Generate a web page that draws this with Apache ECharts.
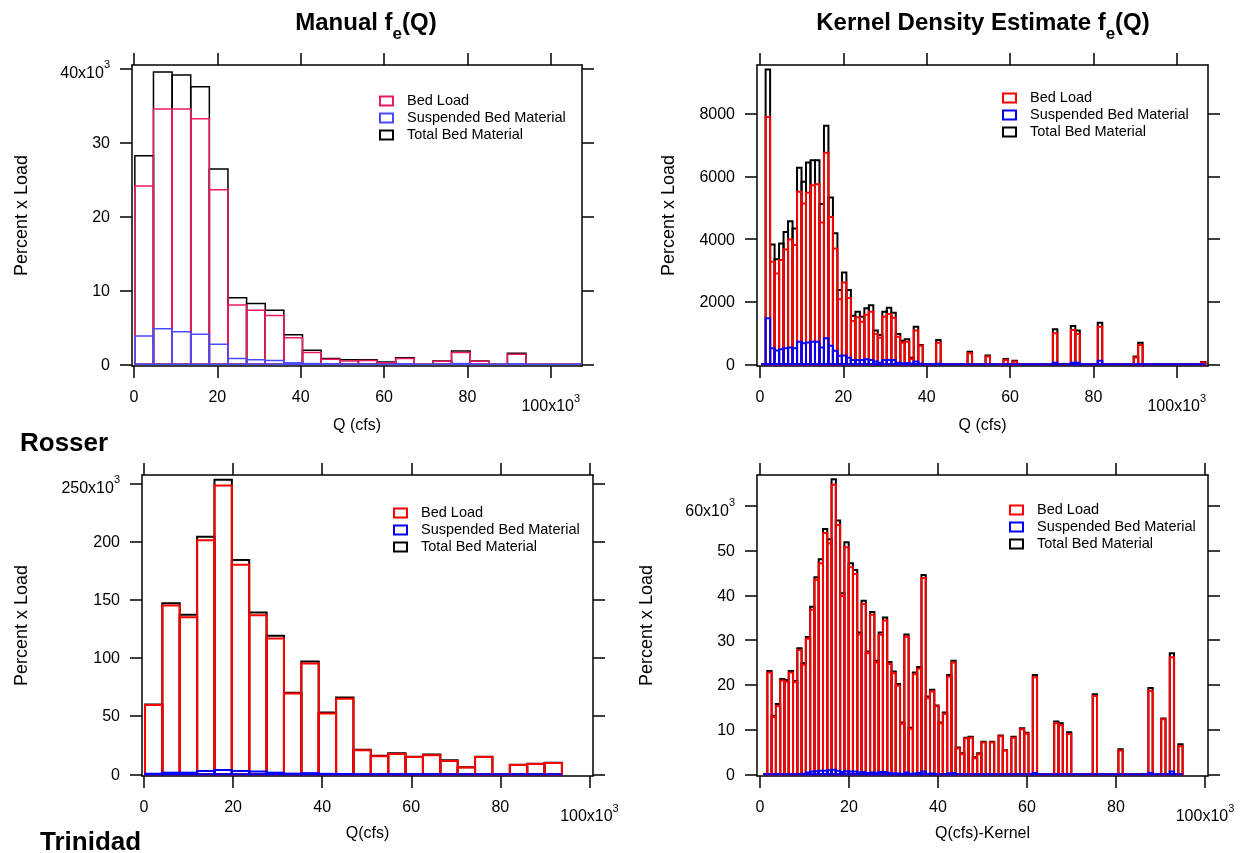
<!DOCTYPE html>
<html>
<head>
<meta charset="utf-8">
<title>Rosser / Trinidad f_e(Q)</title>
<script src="https://cdn.jsdelivr.net/npm/echarts@6/dist/echarts.min.js"></script>
<style>
  html, body { margin: 0; background: #fff; }
  #chart { width: 1246px; height: 853px; }
</style>
</head>
<body>
<div id="chart"></div>
<script>
// ---- Rosser, manual bins (Q and load in 10^3) ----
const rosserManualStart = 0.2
const rosserManualWidth = 4.47
const rosserManualTotal = [28.2, 39.5, 39.1, 37.5, 26.4, 9.0, 8.2, 7.3, 4.0, 1.9, 0.8, 0.6, 0.6, 0.3, 0.9, 0, 0.45, 1.8, 0.45, 0, 1.5, 0, 0, 0]
const rosserManualBed = [24.1, 34.5, 34.5, 33.2, 23.6, 8.0, 7.3, 6.6, 3.6, 1.6, 0.67, 0.45, 0.5, 0.2, 0.8, 0, 0.4, 1.58, 0.4, 0, 1.35, 0, 0, 0]
const rosserManualSusp = [3.83, 4.82, 4.41, 4.05, 2.7, 0.8, 0.6, 0.5, 0.2, 0.1, 0.05, 0.03, 0.03, 0.02, 0.05, 0, 0.02, 0.1, 0.02, 0, 0.05, 0, 0, 0]

// ---- Rosser, kernel estimate (Q in 10^3, load as is) ----
const rosserKernelStart = 0.27
const rosserKernelWidth = 1.077
const rosserKernelTotal = [
  0, 9420, 3830, 3360, 3860, 4230, 4570, 4340, 6280, 5830,
  6450, 6520, 6520, 5120, 7620, 5330, 4190, 2370, 2930, 2370,
  1550, 1680, 1520, 1790, 1890, 1080, 940, 1680, 1810, 1650,
  970, 750, 800, 210, 1200, 620, 0, 0, 0, 780,
  0, 0, 0, 0, 0, 0, 400, 0, 0, 0,
  280, 0, 0, 0, 170, 0, 110, 0, 0, 0,
  0, 0, 0, 0, 0, 1120, 0, 0, 0, 1220,
  1080, 0, 0, 0, 0, 1330, 0, 0, 0, 0,
  0, 0, 0, 250, 690, 0, 0, 0, 0, 0,
  0, 0, 0, 0, 0, 0, 0, 0, 70]
const rosserKernelBed = [
  0, 7900, 3280, 2900, 3330, 3670, 3990, 3810, 5510, 5140,
  5480, 5720, 5750, 4530, 6760, 4710, 3700, 2080, 2610, 2120,
  1380, 1500, 1360, 1580, 1680, 970, 850, 1520, 1610, 1490,
  880, 690, 720, 170, 1080, 590, 0, 0, 0, 690,
  0, 0, 0, 0, 0, 0, 350, 0, 0, 0,
  250, 0, 0, 0, 140, 0, 90, 0, 0, 0,
  0, 0, 0, 0, 0, 990, 0, 0, 0, 1100,
  970, 0, 0, 0, 0, 1200, 0, 0, 0, 0,
  0, 0, 0, 220, 620, 0, 0, 0, 0, 0,
  0, 0, 0, 0, 0, 0, 0, 0, 60]
const rosserKernelSusp = [
  0, 1470, 510, 440, 480, 510, 540, 510, 720, 670,
  700, 720, 720, 540, 830, 590, 430, 270, 280, 210,
  140, 140, 140, 160, 140, 90, 50, 140, 140, 140,
  50, 30, 40, 20, 90, 20, 0, 0, 0, 20,
  0, 0, 0, 0, 0, 0, 0, 0, 0, 0,
  0, 0, 0, 0, 0, 0, 0, 0, 0, 0,
  0, 0, 0, 0, 0, 50, 0, 0, 0, 50,
  50, 0, 0, 0, 0, 110, 0, 0, 0, 0,
  0, 0, 0, 0, 10, 0, 0, 0, 0, 0,
  0, 0, 0, 0, 0, 0, 0, 0, 0]

// ---- Trinidad, manual bins (Q in 10^3) ----
const trinidadManualStart = 0.22
const trinidadManualWidth = 3.9
const trinidadManualTotal = [60, 147, 137, 204, 253, 184, 139, 119, 70, 97, 53, 66, 21, 16, 18, 15, 17, 12, 6, 15, 0, 8.3, 9.1, 10]
const trinidadManualBed = [59.5, 145, 135, 201, 248, 180, 136.6, 116.6, 69.4, 95.1, 52.3, 64.9, 20.6, 15.4, 17.4, 14.8, 16.3, 11.4, 5.8, 14.8, 0, 8.0, 8.8, 9.7]
const trinidadManualSusp = [0.5, 1.4, 1.4, 2.9, 3.7, 2.9, 2.3, 1.4, 0.6, 1.0, 0.4, 0.3, 0.1, 0.1, 0.1, 0.1, 0.1, 0, 0, 0, 0, 0, 0, 0]

// ---- Trinidad, kernel estimate (Q and load in 10^3) ----
const trinidadKernelStart = 0.69
const trinidadKernelWidth = 0.962
const trinidadKernelTotal = [
  0, 23.1, 13.1, 15.7, 21.3, 21.1, 23.1, 20.9, 28.2, 24.9,
  30.7, 37.5, 44.1, 48.1, 54.9, 52.6, 66.0, 56.8, 40.5, 51.9,
  47.2, 45.7, 31.7, 38.8, 27.5, 36.3, 25.4, 31.7, 35.1, 25.1,
  23.0, 20.2, 11.6, 31.3, 10.4, 22.8, 24.0, 44.6, 17.4, 18.9,
  15.4, 11.6, 13.8, 22.2, 25.4, 6.0, 4.7, 8.2, 8.4, 3.8,
  4.7, 7.3, 0, 7.3, 0, 8.7, 5.4, 0, 8.4, 0,
  10.3, 9.3, 0, 22.2, 0, 0, 0, 0, 11.8, 11.4,
  0, 9.4, 0, 0, 0, 0, 0, 17.9, 0, 0,
  0, 0, 0, 5.6, 0, 0, 0, 0, 0, 0,
  19.3, 0, 0, 12.5, 0, 27.1, 0, 6.7]
const trinidadKernelBed = [
  0, 22.8, 12.8, 15.3, 21.0, 20.7, 22.8, 20.6, 27.8, 24.5,
  30.3, 36.8, 43.5, 47.2, 54.0, 51.7, 64.8, 55.8, 39.9, 50.8,
  46.3, 44.8, 31.3, 38.1, 27.1, 35.7, 25.0, 31.2, 34.4, 24.7,
  22.6, 19.8, 11.3, 30.8, 10.2, 22.4, 23.6, 43.9, 17.0, 18.5,
  15.2, 11.4, 13.5, 21.8, 25.0, 5.8, 4.5, 8.0, 8.2, 3.6,
  4.5, 7.1, 0, 7.1, 0, 8.5, 5.3, 0, 8.2, 0,
  10.1, 9.1, 0, 21.7, 0, 0, 0, 0, 11.4, 11.0,
  0, 9.0, 0, 0, 0, 0, 0, 17.5, 0, 0,
  0, 0, 0, 5.3, 0, 0, 0, 0, 0, 0,
  18.7, 0, 0, 12.3, 0, 26.2, 0, 6.3]
const trinidadKernelSusp = [
  0, 0, 0, 0, 0, 0, 0, 0, 0, 0.1,
  0.4, 0.6, 0.7, 0.8, 0.8, 0.9, 1.0, 0.8, 0.5, 0.7,
  0.6, 0.6, 0.4, 0.5, 0.3, 0.4, 0.3, 0.5, 0.5, 0.3,
  0.2, 0.2, 0.1, 0.4, 0.1, 0.2, 0.3, 0.6, 0.1, 0.2,
  0, 0, 0, 0.2, 0.3, 0, 0, 0, 0, 0,
  0, 0, 0, 0, 0, 0, 0, 0, 0, 0,
  0, 0, 0, 0.3, 0, 0, 0, 0, 0, 0,
  0, 0, 0, 0, 0, 0, 0, 0, 0, 0,
  0, 0, 0, 0, 0, 0, 0, 0, 0, 0,
  0.3, 0, 0, 0, 0, 0.6, 0, 0]

// tick values
const qTicks = [0, 20, 40, 60, 80, 100]
const rosserManualYTicks = [0, 10, 20, 30, 40]
const rosserKernelYTicks = [0, 2000, 4000, 6000, 8000]
const trinidadManualYTicks = [0, 50, 100, 150, 200, 250]
const trinidadKernelYTicks = [0, 10, 20, 30, 40, 50, 60]

const seriesNames = ['Bed Load', 'Suspended Bed Material', 'Total Bed Material']

const FONT = '"Liberation Sans", Arial, Helvetica, sans-serif'

const panels = [
  {
    grid: { left: 132, top: 65, width: 450, height: 301 },
    xRange: [-0.48, 107.5], yRange: [-0.23, 40.45],
    yTicks: rosserManualYTicks, yExp: 40,
    xName: 'Q (cfs)', xNameGap: 52, yNameGap: 101,
    legend: { left: 379, top: 93 },
    colors: { bed: '#ee1a5e', susp: '#4a4aff', total: '#000' }, lw: 1.5,
    start: rosserManualStart, width: rosserManualWidth,
    total: rosserManualTotal, bed: rosserManualBed, susp: rosserManualSusp,
  },
  {
    grid: { left: 757, top: 65, width: 451, height: 301 },
    xRange: [-0.72, 107.5], yRange: [-54, 9562],
    yTicks: rosserKernelYTicks, yExp: null,
    xName: 'Q (cfs)', xNameGap: 52, yNameGap: 79,
    legend: { left: 1002, top: 90 },
    colors: { bed: '#ff0000', susp: '#0000ff', total: '#000' }, lw: 2,
    start: rosserKernelStart, width: rosserKernelWidth,
    total: rosserKernelTotal, bed: rosserKernelBed, susp: rosserKernelSusp,
  },
  {
    grid: { left: 142, top: 475, width: 451, height: 301 },
    xRange: [-0.45, 100.8], yRange: [-1.46, 257.1],
    yTicks: trinidadManualYTicks, yExp: 250,
    xName: 'Q(cfs)', xNameGap: 50, yNameGap: 111,
    legend: { left: 393, top: 505 },
    colors: { bed: '#ff0000', susp: '#0000ff', total: '#000' }, lw: 2,
    start: trinidadManualStart, width: trinidadManualWidth,
    total: trinidadManualTotal, bed: trinidadManualBed, susp: trinidadManualSusp,
  },
  {
    grid: { left: 757, top: 475, width: 451, height: 301 },
    xRange: [-0.67, 100.67], yRange: [-0.38, 66.96],
    yTicks: trinidadKernelYTicks, yExp: 60,
    xName: 'Q(cfs)-Kernel', xNameGap: 50, yNameGap: 101,
    legend: { left: 1009, top: 502 },
    colors: { bed: '#ff0000', susp: '#0000ff', total: '#000' }, lw: 2,
    start: trinidadKernelStart, width: trinidadKernelWidth,
    total: trinidadKernelTotal, bed: trinidadKernelBed, susp: trinidadKernelSusp,
  },
]

// n: plain tick label, m: mantissa of the "x10^3" label (sits lower), s: superscript 3
const labelRich = {
  n: { fontSize: 16, lineHeight: 18, verticalAlign: 'bottom', color: '#000', fontFamily: FONT },
  m: { fontSize: 16, lineHeight: 27, verticalAlign: 'bottom', color: '#000', fontFamily: FONT },
  s: { fontSize: 11, lineHeight: 12, verticalAlign: 'bottom', padding: [0, 0, 11, 0], color: '#000', fontFamily: FONT },
}

function tickFormatter(expAt) {
  return (v) => (expAt !== null && Math.abs(v - expAt) < 1e-6 ? `{m|${v}x10}{s|3}` : `{n|${v}}`)
}

const axisLine = { show: true, onZero: false, lineStyle: { color: '#000', width: 1.5 } }
const tickStyle = { color: '#000', width: 1.5 }

const xAxes = []
const yAxes = []
const grids = []
const series = []
const legends = []

panels.forEach((p, i) => {
  grids.push(p.grid)
  const xBase = {
    gridIndex: i, type: 'value', min: p.xRange[0], max: p.xRange[1],
    axisLine, splitLine: { show: false },
  }
  xAxes.push({
    ...xBase, position: 'bottom',
    axisTick: { show: true, inside: false, length: 12, customValues: qTicks, lineStyle: tickStyle },
    axisLabel: {
      show: true, customValues: qTicks, margin: 22, formatter: tickFormatter(100), rich: labelRich,
    },
    name: p.xName, nameLocation: 'middle', nameGap: p.xNameGap,
    nameTextStyle: { fontSize: 16, color: '#000', fontFamily: FONT },
  })
  xAxes.push({
    ...xBase, position: 'top',
    axisTick: { show: true, inside: false, length: 12, customValues: qTicks, lineStyle: tickStyle },
    axisLabel: { show: false },
  })
  const yBase = {
    gridIndex: i, type: 'value', min: p.yRange[0], max: p.yRange[1],
    axisLine, splitLine: { show: false },
  }
  yAxes.push({
    ...yBase, position: 'left',
    axisTick: { show: true, inside: false, length: 12, customValues: p.yTicks, lineStyle: tickStyle },
    axisLabel: {
      show: true, customValues: p.yTicks, margin: 22, formatter: tickFormatter(p.yExp), rich: labelRich,
    },
    name: 'Percent x Load', nameLocation: 'middle', nameGap: p.yNameGap,
    nameTextStyle: { fontSize: 18, color: '#000', fontFamily: FONT },
  })
  yAxes.push({
    ...yBase, position: 'right',
    axisTick: { show: true, inside: false, length: 12, customValues: p.yTicks, lineStyle: tickStyle },
    axisLabel: { show: false },
  })

  const hist = (name, values, color) => ({
    type: 'custom', name,
    xAxisIndex: i * 2, yAxisIndex: i * 2,
    data: values.map((v, k) => [p.start + k * p.width, p.start + (k + 1) * p.width, v]),
    encode: { x: [0, 1], y: 2 },
    itemStyle: { color },
    silent: true,
    renderItem(params, api) {
      const top = api.coord([api.value(0), api.value(2)])
      const bot = api.coord([api.value(1), 0])
      return {
        type: 'rect',
        shape: { x: top[0], y: top[1], width: bot[0] - top[0], height: bot[1] - top[1] },
        style: { fill: 'none', stroke: color, lineWidth: p.lw },
      }
    },
  })
  // total drawn first, suspended last (on top)
  series.push(hist('Total Bed Material', p.total, p.colors.total))
  series.push(hist('Bed Load', p.bed, p.colors.bed))
  series.push(hist('Suspended Bed Material', p.susp, p.colors.susp))

  const swatch = (c) => ({ color: '#fff', borderColor: c, borderWidth: 2 })
  legends.push({
    left: p.legend.left, top: p.legend.top, orient: 'vertical', padding: 0,
    itemWidth: 13, itemHeight: 9, itemGap: 1, selectedMode: false,
    textStyle: { fontSize: 14.5, color: '#000', fontFamily: FONT, lineHeight: 16, padding: [0, 0, 0, 9] },
    data: [
      { name: seriesNames[0], icon: 'rect', itemStyle: swatch(p.colors.bed) },
      { name: seriesNames[1], icon: 'rect', itemStyle: swatch(p.colors.susp) },
      { name: seriesNames[2], icon: 'rect', itemStyle: swatch(p.colors.total) },
    ],
  })
})

const titleRich = {
  t: { fontSize: 24, fontWeight: 'bold', fontFamily: FONT, lineHeight: 28, verticalAlign: 'bottom', padding: [0, 0, 8, 0], fill: '#000' },
  e: { fontSize: 17, fontWeight: 'bold', fontFamily: FONT, lineHeight: 20, verticalAlign: 'bottom', fill: '#000' },
}

const chart = echarts.init(document.getElementById('chart'))
chart.setOption({
  animation: false,
  backgroundColor: '#fff',
  textStyle: { fontFamily: FONT },
  grid: grids,
  xAxis: xAxes,
  yAxis: yAxes,
  legend: legends,
  series,
  graphic: [
    {
      type: 'text', x: 366, y: 29,
      style: { text: '{t|Manual f}{e|e}{t|(Q)}', rich: titleRich, align: 'center', verticalAlign: 'middle' },
    },
    {
      type: 'text', x: 983, y: 29,
      style: { text: '{t|Kernel Density Estimate f}{e|e}{t|(Q)}', rich: titleRich, align: 'center', verticalAlign: 'middle' },
    },
    {
      type: 'text', x: 20, y: 444,
      style: { text: 'Rosser', font: 'bold 26px ' + FONT, fill: '#000', verticalAlign: 'middle' },
    },
    {
      type: 'text', x: 40, y: 843,
      style: { text: 'Trinidad', font: 'bold 26px ' + FONT, fill: '#000', verticalAlign: 'middle' },
    },
  ],
})
</script>
</body>
</html>
